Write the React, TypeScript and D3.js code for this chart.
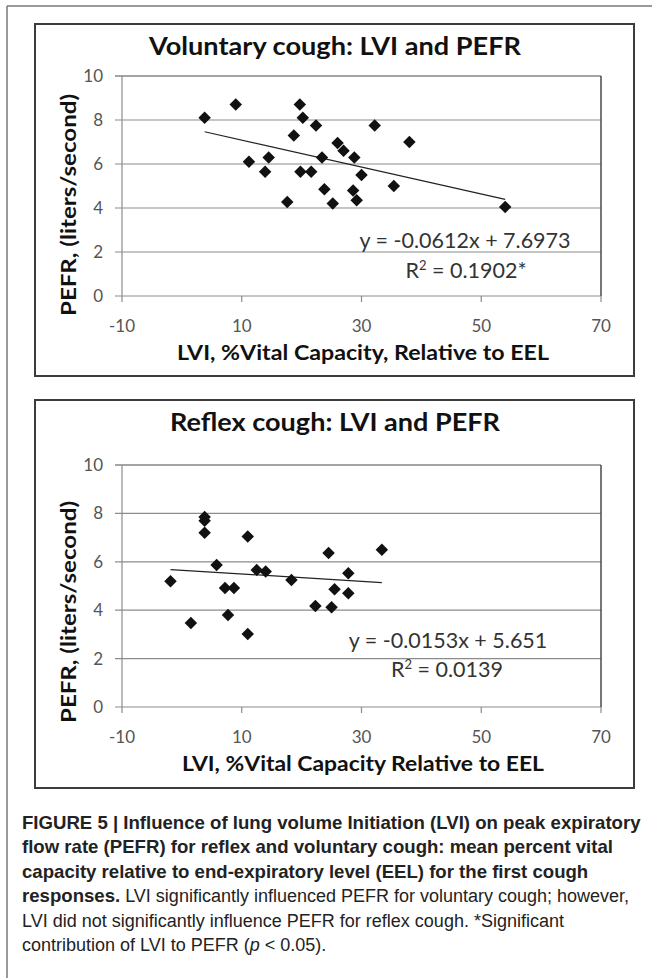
import * as d3 from "d3";

// voluntary cough: LVI (%VC rel. to EEL) vs PEFR (L/s)
const volLVI = [3.8, 9, 19.7, 20.2, 22.4, 18.7, 32.2, 38, 26, 27, 28.8, 23.4, 11.2, 14.5, 13.9, 19.8, 21.6, 30, 35.4, 23.8, 28.6, 17.6, 25.2, 29.2, 54];
const volPEFR = [8.1, 8.7, 8.7, 8.1, 7.75, 7.3, 7.75, 7.0, 6.95, 6.6, 6.3, 6.3, 6.1, 6.3, 5.65, 5.65, 5.65, 5.5, 5.0, 4.85, 4.8, 4.27, 4.2, 4.35, 4.05];

// reflex cough
const refLVI = [3.8, 3.8, 3.8, 11, 5.8, 12.5, 14, 24.5, 33.4, 27.8, -1.9, 7.2, 8.7, 7.7, 1.5, 11, 18.3, 22.3, 25, 25.5, 27.8];
const refPEFR = [7.85, 7.7, 7.2, 7.05, 5.87, 5.66, 5.6, 6.36, 6.5, 5.53, 5.2, 4.92, 4.92, 3.8, 3.47, 3.02, 5.25, 4.17, 4.12, 4.87, 4.7];

const xTicks = [-10, 10, 30, 50, 70];
const yTicks = [0, 2, 4, 6, 8, 10];

const chartFont = "Lato, 'Open Sans', sans-serif";
const capFont = "'Liberation Sans Narrow', 'Liberation Sans', Arial, sans-serif";

function Panel({ frameTop, frameBottom, plotTop, plotBottom, title, titleLen, xTitle, xTitleLen, xs, ys, slope, intercept, eq, r2, eqX, eqY, r2X, r2Y, yTitleMid }: any) {
  const x = d3.scaleLinear([-10, 70], [122, 601]);
  const y = d3.scaleLinear([0, 10], [plotBottom, plotTop]);
  const [x0, x1]: any = d3.extent(xs);
  const fit: any = d3.line()([
    [x(x0), y(slope * x0 + intercept)],
    [x(x1), y(slope * x1 + intercept)]
  ]);
  const diamond: any = d3.symbol(d3.symbolSquare, 78)();

  return (
    <g>
      <rect x={35} y={frameTop} width={599} height={frameBottom - frameTop} fill="white" stroke="#3c3c3c" strokeWidth={2} />
      <text x={335} y={frameTop + 31} textAnchor="middle" fontFamily={chartFont} fontWeight="bold" fontSize={25}
        textLength={titleLen} lengthAdjust="spacingAndGlyphs" fill="#111">{title}</text>

      {/* grid */}
      {yTicks.map(t => (
        <g key={t}>
          <line x1={115} x2={601} y1={y(t)} y2={y(t)} stroke={t === 10 ? "#4a4a4a" : "#8c8c8c"} strokeWidth={1.2} />
          <text x={103} y={y(t) + 6} textAnchor="end" fontFamily={chartFont} fontSize={17} fill="#555">{t}</text>
        </g>
      ))}
      <line x1={601} x2={601} y1={y(10)} y2={y(0)} stroke="#4a4a4a" strokeWidth={1.5} />
      <line x1={122} x2={122} y1={y(10)} y2={y(0)} stroke="#8c8c8c" strokeWidth={1.2} />
      {xTicks.map(t => (
        <g key={t}>
          <line x1={x(t)} x2={x(t)} y1={y(0)} y2={y(0) + 6} stroke="#8c8c8c" strokeWidth={1.2} />
          <text x={x(t)} y={y(0) + 36} textAnchor="middle" fontFamily={chartFont} fontSize={17} fill="#555">{t}</text>
        </g>
      ))}

      <path d={fit} stroke="#222" strokeWidth={1.2} fill="none" />
      <g fill="#111">
        {xs.map((v: number, i: number) => (
          <path key={i} d={diamond} transform={`translate(${x(v)},${y(ys[i])}) rotate(45)`} />
        ))}
      </g>

      <text x={eqX} y={eqY} textAnchor="middle" fontFamily={chartFont} fontSize={21.5} fill="#333">{eq}</text>
      <text x={r2X} y={r2Y} textAnchor="middle" fontFamily={chartFont} fontSize={21.5} fill="#333">
        R<tspan fontSize={13} dy={-8}>2</tspan><tspan dy={8}>{r2}</tspan>
      </text>

      <text transform={`translate(76,${yTitleMid}) rotate(-90)`} textAnchor="middle" fontFamily={chartFont} fontWeight="bold" fontSize={20}
        textLength={222} lengthAdjust="spacingAndGlyphs" fill="#111">PEFR, (liters/second)</text>
      <text x={363} y={y(0) + 64} textAnchor="middle" fontFamily={chartFont} fontWeight="bold" fontSize={20.5}
        textLength={xTitleLen} lengthAdjust="spacingAndGlyphs" fill="#111">{xTitle}</text>
    </g>
  );
}

export default function App() {
  return (
    <div style={{ position: "absolute", left: 0, top: 0 }}>
      <svg width={652} height={978} style={{ display: "block" }}>
        <rect width={652} height={978} fill="white" />
        <line x1={7} x2={652} y1={6} y2={6} stroke="#777" strokeWidth={1.5} />
        <line x1={7} x2={7} y1={6} y2={978} stroke="#777" strokeWidth={1.5} />

        <Panel frameTop={24} frameBottom={376} plotTop={76} plotBottom={296}
          title="Voluntary cough: LVI and PEFR" titleLen={372}
          xTitle="LVI, %Vital Capacity, Relative to EEL" xTitleLen={372}
          xs={volLVI} ys={volPEFR} slope={-0.0612} intercept={7.6973}
          eq="y = -0.0612x + 7.6973" r2=" = 0.1902*" eqX={465} eqY={248} r2X={466} r2Y={278} yTitleMid={205} />
        <Panel frameTop={400} frameBottom={788} plotTop={465} plotBottom={707}
          title="Reflex cough: LVI and PEFR" titleLen={330}
          xTitle="LVI, %Vital Capacity Relative to EEL" xTitleLen={362}
          xs={refLVI} ys={refPEFR} slope={-0.0153} intercept={5.651}
          eq="y = -0.0153x + 5.651" r2=" = 0.0139" eqX={448} eqY={648} r2X={447} r2Y={677} yTitleMid={612} />

        <g fontFamily={capFont} fontSize={18} fill="#222">
          <text x={22} y={829} fontWeight="bold" fontSize={18.6}>FIGURE 5 | Influence of lung volume Initiation (LVI) on peak expiratory</text>
          <text x={22} y={853} fontWeight="bold" fontSize={18.6}>flow rate (PEFR) for reflex and voluntary cough: mean percent vital</text>
          <text x={22} y={878} fontWeight="bold" fontSize={18.6}>capacity relative to end-expiratory level (EEL) for the first cough</text>
          <text x={22} y={902}><tspan fontWeight="bold" fontSize={18.6}>responses.</tspan> LVI significantly influenced PEFR for voluntary cough; however,</text>
          <text x={22} y={927}>LVI did not significantly influence PEFR for reflex cough. *Significant</text>
          <text x={22} y={951}>contribution of LVI to PEFR (<tspan fontStyle="italic">p</tspan> &lt; 0.05).</text>
        </g>
      </svg>
    </div>
  );
}
